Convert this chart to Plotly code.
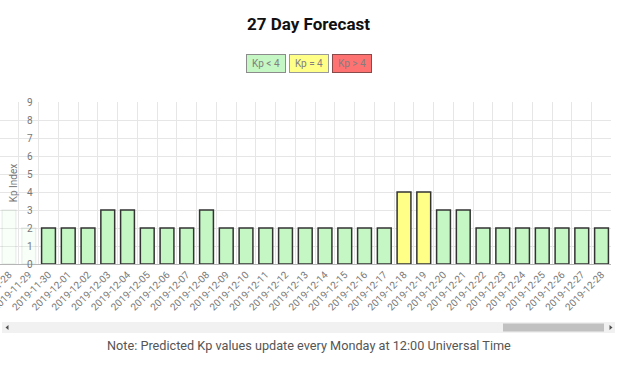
import plotly.graph_objects as go

# ---- data ----
dates = ["2019-11-28", "2019-11-29", "2019-11-30",
         "2019-12-01", "2019-12-02", "2019-12-03", "2019-12-04", "2019-12-05",
         "2019-12-06", "2019-12-07", "2019-12-08", "2019-12-09", "2019-12-10",
         "2019-12-11", "2019-12-12", "2019-12-13", "2019-12-14", "2019-12-15",
         "2019-12-16", "2019-12-17", "2019-12-18", "2019-12-19", "2019-12-20",
         "2019-12-21", "2019-12-22", "2019-12-23", "2019-12-24", "2019-12-25",
         "2019-12-26", "2019-12-27", "2019-12-28"]
kp = [3, 2, 2, 2, 2, 3, 3, 2, 2, 2, 3, 2, 2, 2, 2, 2, 2, 2, 2, 2,
      4, 4, 3, 3, 2, 2, 2, 2, 2, 2, 2]
legend_labels = ["Kp < 4", "Kp = 4", "Kp > 4"]
y_ticks = list(range(0, 10))

# ---- styling ----
W, H = 640, 366
ML, MR, MT, MB = 0, 29, 102, 102
PW, PH = W - ML - MR, H - MT - MB
GREEN, YELLOW, RED = "#c4f7c4", "#ffff88", "#ff7272"
scrolled_under_axis = 2  # leading days hidden under the y axis overlay


def px_x(px):
    return (px - ML) / PW


def px_y(py):
    return (H - MB - py) / PH


def color_for(v):
    if v < 4:
        return GREEN
    if v == 4:
        return YELLOW
    return RED


fills, lines = [], []
for i, v in enumerate(kp):
    if i < scrolled_under_axis:
        fills.append("rgba(196,247,196,0.12)")
        lines.append("rgba(0,0,0,0.06)")
    else:
        fills.append(color_for(v))
        lines.append("#333333")

fig = go.Figure()
fig.add_trace(go.Bar(
    x=dates, y=kp,
    marker=dict(color=fills, line=dict(color=lines, width=1.5)),
    showlegend=False, hoverinfo="x+y",
))

axis_pos = px_x(38.6)

fig.update_layout(
    width=W, height=H,
    margin=dict(l=ML, r=MR, t=MT, b=MB),
    paper_bgcolor="white", plot_bgcolor="white",
    font=dict(family="Roboto", color="#777"),
    bargap=0.3,
    title=dict(text="<b>27 Day Forecast</b>",
               font=dict(family="Roboto", size=17, color="#111"),
               x=308.5 / W, xanchor="center", y=1 - 24 / H, yanchor="middle"),
    xaxis=dict(type="category", range=[-0.456, 30.48],
               tickangle=-45, tickfont=dict(size=10, color="#777"),
               tickson="boundaries", showgrid=True, gridcolor="#e6e6e6",
               showline=True, linecolor="#b5b5b5", linewidth=1,
               ticks="", automargin=False, fixedrange=True),
    yaxis=dict(range=[0, 9], tickvals=y_ticks, anchor="free", position=axis_pos,
               tickfont=dict(size=10, color="#777"), ticklabelstandoff=6,
               showgrid=True, gridcolor="#e6e6e6", zeroline=False,
               showline=False, ticks="", automargin=False,
               title=dict(text="Kp Index", font=dict(size=10, color="#777"), standoff=6),
               fixedrange=True),
)

# overlay under the fixed y axis (hides scrolled grid)
fig.add_shape(type="rect", xref="paper", yref="paper",
              x0=px_x(0), x1=axis_pos, y0=0, y1=1,
              fillcolor="white", line_width=0, layer="between")

# scrollbar
fig.add_shape(type="rect", xref="paper", yref="paper",
              x0=px_x(2), x1=px_x(615), y0=px_y(333), y1=px_y(322),
              fillcolor="#f1f1f1", line_width=0)
fig.add_shape(type="rect", xref="paper", yref="paper",
              x0=px_x(503), x1=px_x(604), y0=px_y(331.5), y1=px_y(323.5),
              fillcolor="#c1c1c1", line_width=0)
fig.add_shape(type="path", xref="paper", yref="paper",
              path=f"M {px_x(5.5)},{px_y(327.5)} L {px_x(8.5)},{px_y(325)} L {px_x(8.5)},{px_y(330)} Z",
              fillcolor="#505050", line_width=0)
fig.add_shape(type="path", xref="paper", yref="paper",
              path=f"M {px_x(612.5)},{px_y(327.5)} L {px_x(609.5)},{px_y(325)} L {px_x(609.5)},{px_y(330)} Z",
              fillcolor="#505050", line_width=0)

# custom legend boxes
legend_fill = [GREEN, YELLOW, RED]
legend_border = ["#8c8c8c", "#9a9a9a", "#8b4a4a"]
legend_cx = [266, 308.5, 351.5]
for lab, fc, bc, cx in zip(legend_labels, legend_fill, legend_border, legend_cx):
    fig.add_annotation(text=lab, xref="paper", yref="paper",
                       x=px_x(cx), y=px_y(63.5), xanchor="center", yanchor="middle",
                       showarrow=False, width=34, height=13, borderpad=2,
                       bgcolor=fc, bordercolor=bc, borderwidth=1,
                       font=dict(size=10, color="#808080"))

fig.add_annotation(text="Note: Predicted Kp values update every Monday at 12:00 Universal Time",
                   xref="paper", yref="paper", x=px_x(309), y=px_y(345),
                   xanchor="center", yanchor="middle", showarrow=False,
                   font=dict(size=12.7, color="#555"))

fig.write_html("out.html", config={"displayModeBar": False},
               post_script="document.body.style.margin='0';")
